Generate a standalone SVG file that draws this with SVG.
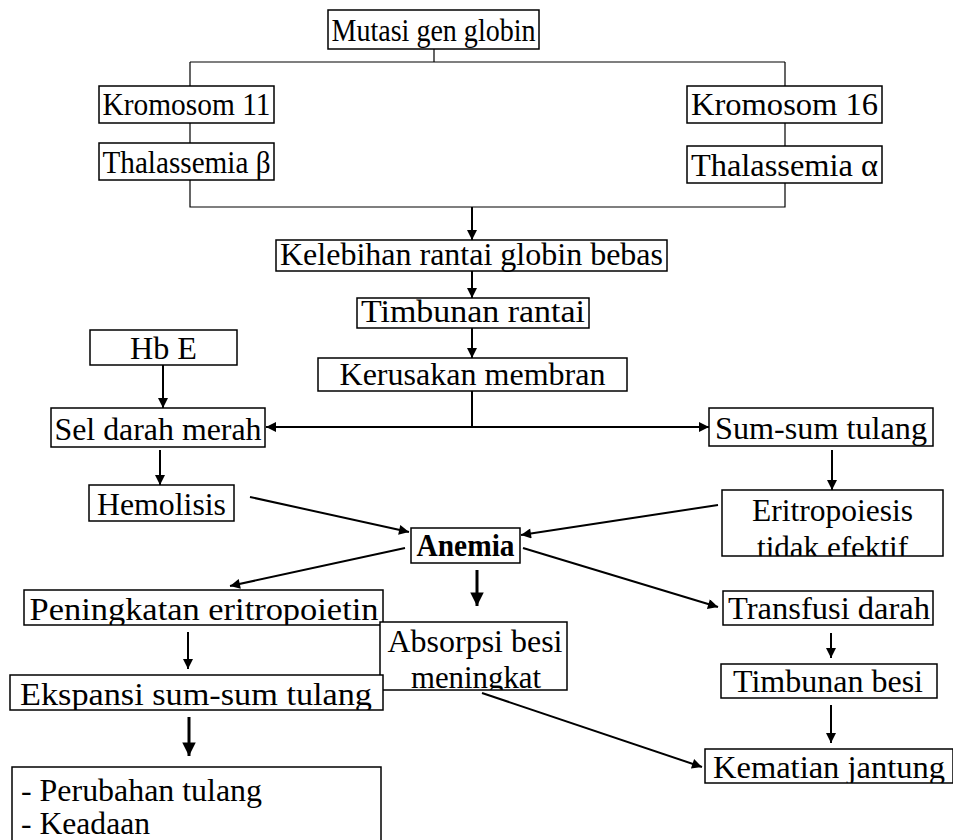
<svg xmlns="http://www.w3.org/2000/svg" width="953" height="840" viewBox="0 0 953 840">
<style>
  .box { fill: #fff; stroke: #000; stroke-width: 1.5; }
  .t { font-family: "Liberation Serif", "Times New Roman", serif; font-size: 32px; fill: #000; text-anchor: middle; }
  .tl { font-family: "Liberation Serif", "Times New Roman", serif; font-size: 32px; fill: #000; }
  .b { font-weight: bold; }
  .thin { fill: none; stroke: #000; stroke-width: 1.2; }
  .arr { fill: none; stroke: #000; stroke-width: 2; marker-end: url(#head); }
  .arrb { fill: none; stroke: #000; stroke-width: 3; marker-end: url(#headb); }
</style>
<defs>
  <marker id="head" viewBox="0 0 10 10" refX="10" refY="5" markerWidth="5.5" markerHeight="5" orient="auto" markerUnits="strokeWidth">
    <path d="M0,0 L10,5 L0,10 z" fill="#000"/>
  </marker>
  <marker id="headb" viewBox="0 0 10 10" refX="10" refY="5" markerWidth="5" markerHeight="4.5" orient="auto" markerUnits="strokeWidth">
    <path d="M0,0 L10,5 L0,10 z" fill="#000"/>
  </marker>
  <clipPath id="c-eri"><rect x="722" y="490" width="221" height="66"/></clipPath>
  <clipPath id="c-pen"><rect x="24" y="590" width="359" height="35"/></clipPath>
  <clipPath id="c-abs"><rect x="380" y="622" width="187" height="68"/></clipPath>
  <clipPath id="c-eks"><rect x="10" y="675" width="373" height="35"/></clipPath>
  <clipPath id="c-kem"><rect x="705" y="749" width="248" height="34"/></clipPath>
</defs>

<g id="connectors">
  <!-- branching tree from the mutation down to both chromosomes -->
  <path class="thin" d="M434,49 V62 M190,62 H785 M190,62 V86 M785,62 V86"/>
  <path class="thin" d="M190,123 V143 M785,123 V146"/>
  <path class="thin" d="M190,180 V207 H785 V183"/>
  <path class="arr" d="M472,207 V240"/>
  <path class="arr" d="M472,271 V298"/>
  <path class="arr" d="M472,328 V358"/>
  <!-- membrane damage splits left and right -->
  <path class="thin" style="stroke-width:2" d="M472,391 V427"/>
  <path class="arr" d="M472,427 H266"/>
  <path class="arr" d="M472,427 H709"/>
  <path class="arr" d="M163,365 V408"/>
  <path class="arr" d="M160,450 V485"/>
  <path class="arr" d="M832,450 V490"/>
  <!-- into and out of Anemia -->
  <path class="arr" d="M250,497 L409,532"/>
  <path class="arr" d="M718,505 L521,535"/>
  <path class="arr" d="M405,548 L230,586"/>
  <path class="arrb" d="M477,570 V606"/>
  <path class="arr" d="M523,548 L718,607"/>
  <path class="arr" d="M188,632 V669"/>
  <path class="arrb" d="M189,717 V756"/>
  <path class="arr" d="M831,633 V658"/>
  <path class="arr" d="M831,705 V743"/>
  <path class="arr" d="M482,693 L702,767"/>
</g>

<g id="mutasi"><rect class="box" x="328" y="10" width="211" height="39"/><text class="t" x="433.5" y="41" textLength="204" lengthAdjust="spacingAndGlyphs">Mutasi gen globin</text></g>
<g id="krom11"><rect class="box" x="99" y="86" width="175" height="37"/><text class="t" x="186.5" y="115" textLength="168" lengthAdjust="spacingAndGlyphs">Kromosom 11</text></g>
<g id="thal-beta"><rect class="box" x="99" y="143" width="175" height="37"/><text class="t" x="186.5" y="173" textLength="168" lengthAdjust="spacingAndGlyphs">Thalassemia β</text></g>
<g id="krom16"><rect class="box" x="687" y="86" width="195" height="37"/><text class="t" x="784.5" y="115" textLength="187" lengthAdjust="spacingAndGlyphs">Kromosom 16</text></g>
<g id="thal-alpha"><rect class="box" x="687" y="146" width="195" height="37"/><text class="t" x="784.5" y="176" textLength="187" lengthAdjust="spacingAndGlyphs">Thalassemia α</text></g>
<g id="kelebihan"><rect class="box" x="276" y="240" width="391" height="31"/><text class="t" x="471.5" y="265" textLength="383" lengthAdjust="spacingAndGlyphs">Kelebihan rantai globin bebas</text></g>
<g id="timbunan-rantai"><rect class="box" x="357" y="298" width="232" height="30"/><text class="t" x="473" y="322" textLength="224" lengthAdjust="spacingAndGlyphs">Timbunan rantai</text></g>
<g id="kerusakan"><rect class="box" x="318" y="358" width="309" height="33"/><text class="t" x="472.5" y="385" textLength="266" lengthAdjust="spacingAndGlyphs">Kerusakan membran</text></g>
<g id="hbe"><rect class="box" x="90" y="330" width="147" height="35"/><text class="t" x="163.5" y="359" textLength="67" lengthAdjust="spacingAndGlyphs">Hb E</text></g>
<g id="sel-darah"><rect class="box" x="51" y="408" width="214" height="39"/><text class="t" x="158" y="440" textLength="207" lengthAdjust="spacingAndGlyphs">Sel darah merah</text></g>
<g id="hemolisis"><rect class="box" x="89" y="485" width="145" height="36"/><text class="t" x="161.5" y="515" textLength="129" lengthAdjust="spacingAndGlyphs">Hemolisis</text></g>
<g id="sumsum"><rect class="box" x="709" y="408" width="224" height="38"/><text class="t" x="821" y="439" textLength="212" lengthAdjust="spacingAndGlyphs">Sum-sum tulang</text></g>
<g id="eritropoiesis"><rect class="box" x="722" y="490" width="221" height="66"/>
  <g clip-path="url(#c-eri)"><text class="t" x="832.5" y="521" textLength="161" lengthAdjust="spacingAndGlyphs">Eritropoiesis</text><text class="t" x="832.5" y="558" textLength="151" lengthAdjust="spacingAndGlyphs">tidak efektif</text></g></g>
<g id="anemia"><rect class="box" x="411" y="528" width="109" height="35"/><text class="t b" x="465.5" y="556" textLength="98" lengthAdjust="spacingAndGlyphs">Anemia</text></g>
<g id="peningkatan"><rect class="box" x="24" y="590" width="359" height="35"/>
  <g clip-path="url(#c-pen)"><text class="t" x="204" y="620" textLength="349" lengthAdjust="spacingAndGlyphs">Peningkatan eritropoietin</text></g></g>
<g id="absorpsi"><rect class="box" x="380" y="622" width="187" height="68"/>
  <g clip-path="url(#c-abs)"><text class="t" x="475" y="652" textLength="175" lengthAdjust="spacingAndGlyphs">Absorpsi besi</text><text class="t" x="476" y="688" textLength="130" lengthAdjust="spacingAndGlyphs">meningkat</text></g></g>
<g id="transfusi"><rect class="box" x="723" y="591" width="210" height="34"/><text class="t" x="829" y="619" textLength="202" lengthAdjust="spacingAndGlyphs">Transfusi darah</text></g>
<g id="timbunan-besi"><rect class="box" x="721" y="664" width="216" height="34"/><text class="t" x="828" y="692" textLength="190" lengthAdjust="spacingAndGlyphs">Timbunan besi</text></g>
<g id="ekspansi"><rect class="box" x="10" y="675" width="373" height="35"/>
  <g clip-path="url(#c-eks)"><text class="t" x="196" y="705" textLength="352" lengthAdjust="spacingAndGlyphs">Ekspansi sum-sum tulang</text></g></g>
<g id="kematian"><rect class="box" x="705" y="749" width="248" height="34"/>
  <g clip-path="url(#c-kem)"><text class="t" x="829" y="778" textLength="232" lengthAdjust="spacingAndGlyphs">Kematian jantung</text></g></g>
<g id="akibat"><rect class="box" x="12" y="767" width="369" height="80"/>
  <text class="tl" x="21" y="801" textLength="241" lengthAdjust="spacingAndGlyphs">- Perubahan tulang</text><text class="tl" x="21" y="834" textLength="129" lengthAdjust="spacingAndGlyphs">- Keadaan</text></g>
</svg>
